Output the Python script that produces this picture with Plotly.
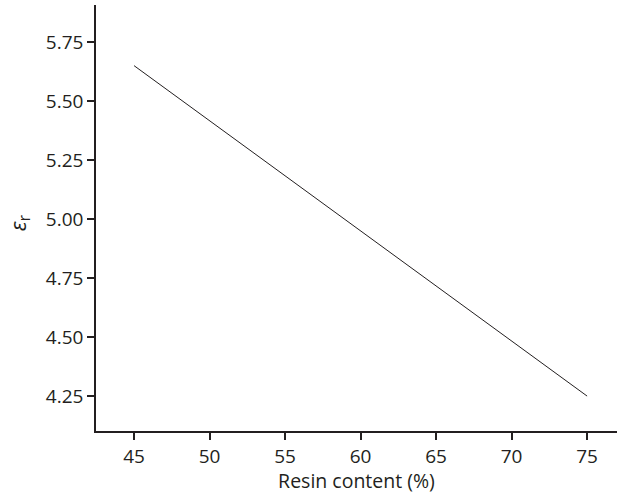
import plotly.graph_objects as go

resin_content = [45, 75]
epsilon_r = [5.65, 4.25]
x_ticks = [45, 50, 55, 60, 65, 70, 75]
y_ticks = [4.25, 4.50, 4.75, 5.00, 5.25, 5.50, 5.75]
y_tick_labels = ["4.25", "4.50", "4.75", "5.00", "5.25", "5.50", "5.75"]

ink = "#231f20"
font_family = "'Open Sans', Lato, sans-serif"

fig = go.Figure()
fig.add_trace(go.Scatter(x=resin_content, y=epsilon_r, mode="lines",
                         line=dict(color=ink, width=1), showlegend=False))

fig.update_layout(
    width=617, height=494,
    margin=dict(l=96, r=0, t=5, b=63),
    paper_bgcolor="white", plot_bgcolor="white",
    font=dict(family=font_family, size=19, color=ink),
    xaxis=dict(range=[42.48, 76.98], tickvals=x_ticks, ticks="outside", ticklen=7,
               tickwidth=1.5, tickcolor=ink, showline=True, linecolor=ink, linewidth=1.5,
               showgrid=False, zeroline=False,
               tickfont=dict(family=font_family, size=19, color=ink),
               title=dict(text="Resin content (%)", standoff=2,
                          font=dict(family=font_family, size=19.5, color=ink))),
    yaxis=dict(range=[4.102, 5.907], tickvals=y_ticks, ticktext=y_tick_labels,
               ticks="outside", ticklen=7, tickwidth=1.5, tickcolor=ink,
               tickfont=dict(family=font_family, size=19, color=ink),
               showline=True, linecolor=ink, linewidth=1.5, showgrid=False, zeroline=False),
    annotations=[dict(text="<i>ε</i><sub>r</sub>", x=-0.148, y=0.49, xref="paper", yref="paper",
                      xanchor="center", yanchor="middle",
                      textangle=-90, showarrow=False,
                      font=dict(family=font_family, size=22, color=ink))],
)

fig.write_html("out.html", config={"displayModeBar": False},
               post_script="document.body.style.margin='0';")
